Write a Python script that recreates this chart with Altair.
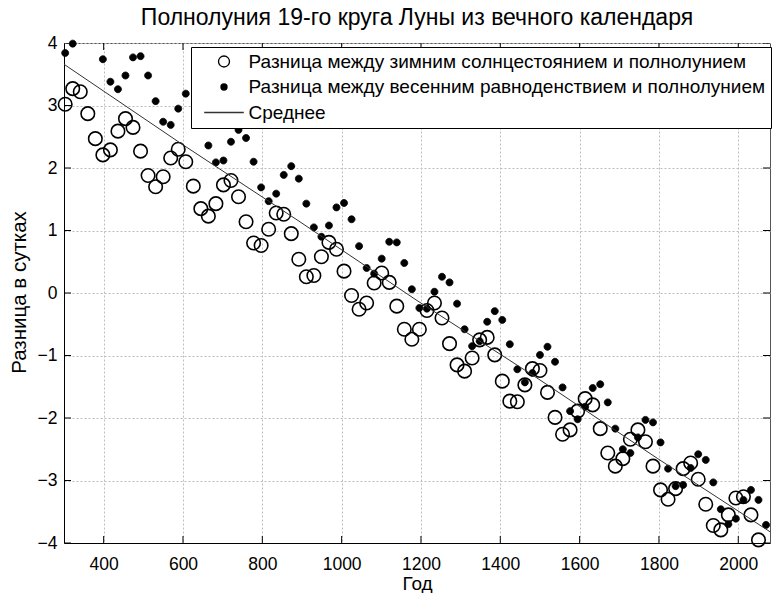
import altair as alt
import pandas as pd

FONT = "Liberation Sans"

TITLE = "Полнолуния 19-го круга Луны из вечного календаря"
LAB_W = "Разница между зимним солнцестоянием и полнолунием"
LAB_S = "Разница между весенним равноденствием и полнолунием"
LAB_M = "Среднее"

years = [303, 322, 341, 360, 379, 398, 417, 436, 455, 474,
         493, 512, 531, 550, 569, 588, 607, 626, 645, 664,
         683, 702, 721, 740, 759, 778, 797, 816, 835, 854,
         873, 892, 911, 930, 949, 968, 987, 1006, 1025, 1044,
         1063, 1082, 1101, 1120, 1139, 1158, 1177, 1196, 1215, 1234,
         1253, 1272, 1291, 1310, 1329, 1348, 1367, 1386, 1405, 1424,
         1443, 1462, 1481, 1500, 1519, 1538, 1557, 1576, 1595, 1614,
         1633, 1652, 1671, 1690, 1709, 1728, 1747, 1766, 1785, 1804,
         1823, 1842, 1861, 1880, 1899, 1918, 1937, 1956, 1975, 1994,
         2013, 2032, 2051, 2070]

winter = [3.02, 3.27, 3.22, 2.87, 2.47, 2.21, 2.29, 2.59, 2.79, 2.65,
          2.27, 1.88, 1.70, 1.86, 2.16, 2.30, 2.10, 1.71, 1.35, 1.23,
          1.43, 1.73, 1.80, 1.54, 1.14, 0.80, 0.76, 1.02, 1.28, 1.26,
          0.95, 0.54, 0.26, 0.28, 0.58, 0.81, 0.70, 0.35, -0.04, -0.26,
          -0.16, 0.16, 0.32, 0.17, -0.21, -0.58, -0.74, -0.58, -0.28, -0.16,
          -0.40, -0.81, -1.15, -1.25, -1.04, -0.75, -0.71, -0.99, -1.41, -1.73,
          -1.74, -1.47, -1.21, -1.24, -1.59, -1.99, -2.26, -2.19, -1.89, -1.69,
          -1.79, -2.17, -2.56, -2.77, -2.65, -2.34, -2.19, -2.38, -2.77, -3.15,
          -3.30, -3.13, -2.81, -2.72, -2.98, -3.38, -3.72, -3.79, -3.55, -3.28,
          -3.26, -3.55, -3.95, None]

spring = [3.84, 3.99, None, None, None, 3.74, 3.38, 3.26, 3.48, 3.77,
          3.79, 3.48, 3.07, 2.74, 2.69, 2.95, 3.19, None, None, 2.36,
          2.09, 2.12, 2.42, 2.61, 2.48, 2.10, 1.69, 1.47, 1.59, 1.89,
          2.03, 1.83, 1.43, 1.05, 0.90, 1.08, 1.37, 1.44, 1.18, 0.75,
          0.40, 0.31, 0.55, 0.82, 0.81, 0.48, 0.06, -0.24, -0.25, 0.02,
          0.26, 0.17, -0.17, -0.58, -0.85, -0.77, -0.46, -0.29, -0.43, -0.82,
          -1.22, -1.43, -1.28, -0.99, -0.86, -1.10, -1.51, -1.89, -2.02, -1.82,
          -1.52, -1.46, -1.75, -2.17, -2.50, -2.56, -2.31, -2.03, -2.07, -2.39,
          -2.81, -3.09, -3.07, -2.80, -2.58, -2.67, -3.03, -3.46, -3.70, -3.61,
          -3.31, -3.15, -3.31, -3.71]

mean_years = [300, 593, 890, 1190, 1495, 1797, 2080]
mean_values = [3.66, 2.40, 1.16, -0.12, -1.37, -2.65, -3.82]

x_ticks = [400, 600, 800, 1000, 1200, 1400, 1600, 1800, 2000]
y_ticks = [-4, -3, -2, -1, 0, 1, 2, 3, 4]
x_domain = [300, 2080]
y_domain = [-4, 4]

DOT_PATH = "M-0.55,0A0.55,0.55 0 1,0 0.55,0A0.55,0.55 0 1,0 -0.55,0Z"
LINE_PATH = "M-3.6,0L3.6,0"

dfw = pd.DataFrame({"year": years, "value": winter, "series": LAB_W}).dropna()
dfs = pd.DataFrame({"year": years, "value": spring, "series": LAB_S}).dropna()
dfm = pd.DataFrame({"year": mean_years, "value": mean_values})

dom = [LAB_W, LAB_S, LAB_M]

leg = alt.Legend(
    orient="none", legendX=127, legendY=4, title=None,
    fillColor="white", strokeColor="black", padding=5,
    labelFont=FONT, labelFontSize=19, labelColor="black", labelLimit=800,
    symbolSize=121, symbolStrokeWidth=1.3, symbolOffset=18.5, labelOffset=15,
    rowPadding=5.5, direction="vertical",
)

xenc = alt.X("year:Q", scale=alt.Scale(domain=x_domain, nice=False, zero=False),
             axis=alt.Axis(values=x_ticks, title="Год", format="d",
                           labelPadding=12, titleY=40, titleBaseline="middle"))
yenc = alt.Y("value:Q", scale=alt.Scale(domain=y_domain, nice=False, zero=False),
             axis=alt.Axis(values=y_ticks, title="Разница в сутках", format="d",
                           labelPadding=7, titleX=-45, titleY=249, titleFontSize=20.5,
                           titleBaseline="middle", titleAlign="center", titleAngle=270))

shape = alt.Shape("series:N", scale=alt.Scale(domain=dom, range=["circle", DOT_PATH, LINE_PATH]), legend=leg)
fill = alt.Fill("series:N", scale=alt.Scale(domain=dom, range=["transparent", "black", "black"]), legend=leg)
stroke = alt.Stroke("series:N", scale=alt.Scale(domain=dom, range=["black", "black", "#333333"]), legend=leg)

circles = alt.Chart(dfw).mark_point(size=182, strokeWidth=1.6, opacity=1).encode(
    x=xenc, y=yenc, shape=shape, fill=fill, stroke=stroke)
dots = alt.Chart(dfs).mark_point(size=162, strokeWidth=0.8, opacity=1).encode(
    x=xenc, y=yenc, shape=shape, fill=fill, stroke=stroke)
mean_line = alt.Chart(dfm).mark_line(color="#333333", strokeWidth=1).encode(x="year:Q", y="value:Q")

tb = pd.DataFrame({"year": x_ticks, "value": -4})
tt = pd.DataFrame({"year": x_ticks, "value": 4})
tl = pd.DataFrame({"year": 300, "value": y_ticks})
tr = pd.DataFrame({"year": 2080, "value": y_ticks})
tick_v = lambda d: alt.Chart(d).mark_tick(orient="vertical", size=14, thickness=1, color="black", clip=True, opacity=1).encode(x="year:Q", y="value:Q")
tick_h = lambda d: alt.Chart(d).mark_tick(orient="horizontal", size=14, thickness=1, color="black", clip=True, opacity=1).encode(x="year:Q", y="value:Q")

chart = alt.layer(
    circles, dots, mean_line, tick_v(tb), tick_v(tt), tick_h(tl), tick_h(tr)
).properties(
    width=706, height=500,
    title=alt.TitleParams(TITLE, font=FONT, fontSize=23, fontWeight="normal", color="black",
                          anchor="middle", frame="group", baseline="bottom", offset=4, dy=23),
    autosize=alt.AutoSizeParams(type="none"),
    padding={"left": 64, "top": 43, "right": 4, "bottom": 50},
    background="white",
).configure_axis(
    labelFont=FONT, labelFontSize=17.5, labelColor="black",
    titleFont=FONT, titleFontSize=19, titleFontWeight="normal", titleColor="black",
    grid=True, gridColor="#bdbdbd", gridDash=[2, 2], gridWidth=1,
    ticks=False, tickSize=0, domainColor="black", domainWidth=1,
).configure_view(stroke="#555555", strokeWidth=1)

chart.save("out.html", embed_options={"renderer": "svg", "actions": False})
